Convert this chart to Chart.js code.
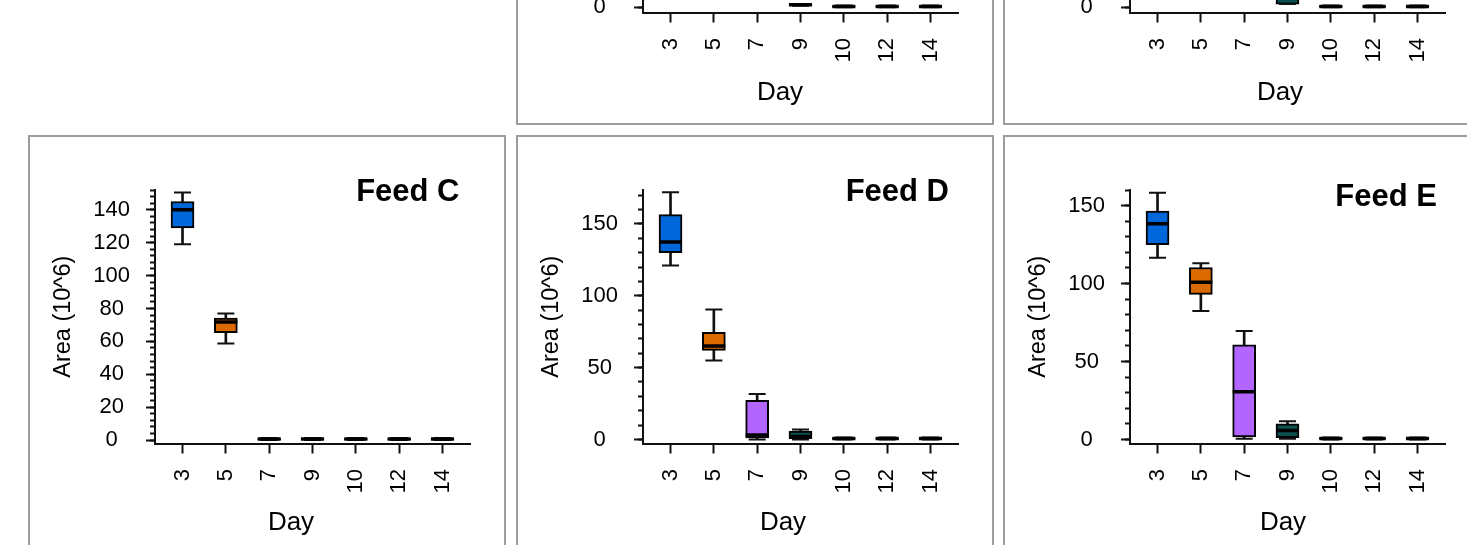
<!DOCTYPE html>
<html>
<head>
<meta charset="utf-8">
<script src="https://cdn.jsdelivr.net/npm/chart.js@4.4.1/dist/chart.umd.min.js"></script>
<style>
  html, body { margin: 0; padding: 0; background: #fff; overflow: hidden; }
  body { width: 1467px; height: 545px; position: relative; font-family: 'Liberation Sans', Arial, sans-serif; }
  .panel { position: absolute; width: 478px; }
  .panel canvas { position: absolute; left: 0; top: 0; }
  .frame { position: absolute; left: 0; top: 0; right: 0; bottom: 0; border: 2px solid #9c9c9c; pointer-events: none; }
  .feed { position: absolute; font-weight: bold; font-size: 31px; line-height: 31px; color: #000; white-space: nowrap; }
  .day { position: absolute; font-size: 26px; line-height: 26px; color: #000; white-space: nowrap; transform: translateX(-50%); }
</style>
</head>
<body>
<script>
const days = ['3', '5', '7', '9', '10', '12', '14'];
const boxColors = ['#0067db', '#db6a00', '#b266ff', '#0b5050', '#333333', '#333333', '#333333'];

// [min, q1, median, q3, max] for each day, Area (10^6)
// top row: only the lowest part of these panels is in the picture
const feedA = [null, null, null, [1.2, 1.5, 1.9, 2.3, 2.6], [0, 0.3, 0.6, 0.9, 1.3], [0, 0.3, 0.6, 0.9, 1.3], [0, 0.3, 0.6, 0.9, 1.3]];
const feedB = [null, null, null, [2.5, 2.5, 7, 12, 15], [0, 0.3, 0.6, 0.9, 1.3], [0, 0.3, 0.6, 0.9, 1.3], [0, 0.3, 0.6, 0.9, 1.3]];
const feedC = [[119, 129, 140, 145, 150.5], [58.7, 65.3, 71.8, 74.2, 77], [0, 0.3, 0.6, 0.9, 1.3], [0, 0.3, 0.6, 0.9, 1.3], [0, 0.3, 0.6, 0.9, 1.3], [0, 0.3, 0.6, 0.9, 1.3], [0, 0.3, 0.6, 0.9, 1.3]];
const feedD = [[121, 130, 137.5, 156.5, 172], [55, 62, 65, 74.5, 90.5], [0, 1, 3.2, 27.3, 31.7], [0, 0.5, 2, 5.8, 6.9], [0, 0.3, 0.6, 0.9, 1.3], [0, 0.3, 0.6, 0.9, 1.3], [0, 0.3, 0.6, 0.9, 1.3]];
const feedE = [[116.5, 125, 138.4, 146.5, 158.3], [82.4, 93.1, 100.8, 110.3, 113], [0.5, 1.7, 30.6, 60.7, 69.6], [0.5, 1.1, 5.7, 10, 11.7], [0, 0.3, 0.6, 0.9, 1.3], [0, 0.3, 0.6, 0.9, 1.3], [0, 0.3, 0.6, 0.9, 1.3]];

const FONT = "'Liberation Sans', Arial, sans-serif";
Chart.defaults.font.family = FONT;

const panels = [
  { data: feedA, left: 516, top: -296, h: 421, yMin: -4, yMax: 191, major: 50, minor: 10, title: null, dayX: 264, dayTop: 374 },
  { data: feedB, left: 1003, top: -296, h: 421, yMin: -4, yMax: 191, major: 50, minor: 10, title: null, dayX: 277, dayTop: 374 },
  { data: feedC, left: 28, top: 135, h: 417, yMin: -2.1, yMax: 152, major: 20, minor: 4, title: 'Feed C', titleRight: 46.5, titleTop: 40.3, dayX: 263, dayTop: 373 },
  { data: feedD, left: 516, top: 135, h: 417, yMin: -2.8, yMax: 173.6, major: 50, minor: 10, title: 'Feed D', titleRight: 45, titleTop: 39.5, dayX: 267, dayTop: 373 },
  { data: feedE, left: 1003, top: 135, h: 417, yMin: -2.6, yMax: 160, major: 50, minor: 10, title: 'Feed E', titleRight: 44, titleTop: 44.5, dayX: 280, dayTop: 373 }
];

function makePanel(p) {
  const wrap = document.createElement('div');
  wrap.className = 'panel';
  wrap.style.left = p.left + 'px';
  wrap.style.top = p.top + 'px';
  wrap.style.height = p.h + 'px';

  const canvas = document.createElement('canvas');
  canvas.width = 478;
  canvas.height = p.h;
  wrap.appendChild(canvas);

  if (p.title) {
    const t = document.createElement('div');
    t.className = 'feed';
    t.textContent = p.title;
    t.style.right = p.titleRight + 'px';
    t.style.top = p.titleTop + 'px';
    wrap.appendChild(t);
  }
  const d = document.createElement('div');
  d.className = 'day';
  d.textContent = 'Day';
  d.style.left = p.dayX + 'px';
  d.style.top = p.dayTop + 'px';
  wrap.appendChild(d);

  const frame = document.createElement('div');
  frame.className = 'frame';
  wrap.appendChild(frame);
  document.body.appendChild(wrap);

  // skip the days that are outside the picture
  const rows = [];
  p.data.forEach((v, i) => { if (v) rows.push({ i, v }); });

  new Chart(canvas, {
    type: 'bar',
    data: {
      datasets: [
        { // medians
          type: 'line', showLine: false, order: 0,
          data: rows.map(r => ({ x: r.i, y: r.v[2] })),
          pointStyle: 'line', pointRadius: 11.5, pointHoverRadius: 11.5, pointBorderWidth: 3.5, pointBorderColor: '#000'
        },
        { // whisker caps
          type: 'line', showLine: false, order: 1,
          data: rows.flatMap(r => [{ x: r.i, y: r.v[0] }, { x: r.i, y: r.v[4] }]),
          pointStyle: 'line', pointRadius: 8.5, pointHoverRadius: 8.5, pointBorderWidth: 2, pointBorderColor: '#111'
        },
        { // boxes q1..q3
          order: 2,
          data: rows.map(r => ({ x: r.i, y: [r.v[1], r.v[3]] })),
          backgroundColor: rows.map(r => boxColors[r.i]),
          borderColor: '#000', borderWidth: 2, borderSkipped: false,
          barThickness: 23, grouped: false
        },
        { // whiskers min..max
          order: 3,
          data: rows.map(r => ({ x: r.i, y: [r.v[0], r.v[4]] })),
          backgroundColor: '#111', borderWidth: 0,
          barThickness: 2, grouped: false
        }
      ]
    },
    options: {
      responsive: false,
      animation: false,
      layout: { padding: { top: 55, right: 36, bottom: 0, left: 0 } },
      plugins: { legend: { display: false }, tooltip: { enabled: false } },
      scales: {
        x: {
          type: 'linear', min: -0.635, max: 6.635, offset: false,
          grid: { drawOnChartArea: false, drawTicks: true, tickLength: 10, tickWidth: 2, tickColor: '#111', offset: false },
          border: { display: true, color: '#111', width: 2 },
          ticks: {
            stepSize: 1, includeBounds: false, autoSkip: false,
            minRotation: 90, maxRotation: 90, padding: 15.5,
            color: '#000', font: { size: 22 },
            callback: v => days[v] ?? ''
          },
          afterFit: s => { s.height = p.h - 308.5; }
        },
        y: {
          type: 'linear', position: 'left', min: p.yMin, max: p.yMax, weight: 1,
          grid: { drawOnChartArea: false, drawTicks: true, tickLength: 9, tickWidth: 2, tickColor: '#111' },
          border: { display: true, color: '#111', width: 2 },
          ticks: { stepSize: p.major, includeBounds: false, crossAlign: 'center', padding: 16, color: '#000', font: { size: 22 } },
          title: { display: true, text: 'Area (10^6)', color: '#000', font: { size: 23.5, lineHeight: 1 }, padding: { top: 23.75, bottom: 0 } },
          afterFit: s => { s.width = 127; }
        },
        yMinor: {
          type: 'linear', axis: 'y', position: 'left', min: p.yMin, max: p.yMax, weight: 0,
          grid: { drawOnChartArea: false, drawTicks: true, tickLength: 5, tickWidth: 2, tickColor: '#111' },
          border: { display: false },
          ticks: { stepSize: p.minor, includeBounds: false, display: false },
          afterFit: s => { s.width = 0; }
        }
      }
    }
  });
}

panels.forEach(makePanel);
</script>
</body>
</html>
